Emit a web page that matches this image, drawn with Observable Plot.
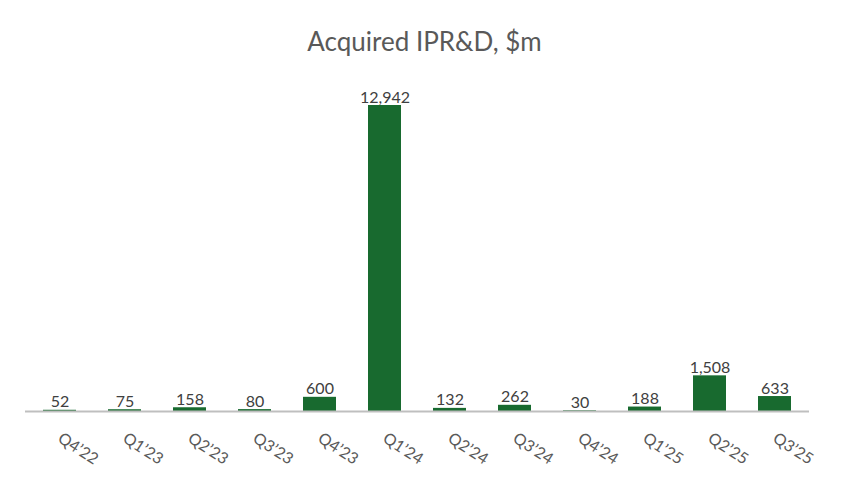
<!DOCTYPE html>
<html>
<head>
<meta charset="utf-8">
<script src="https://cdn.jsdelivr.net/npm/d3@7"></script>
<script src="https://cdn.jsdelivr.net/npm/@observablehq/plot@0.6"></script>
<style>
  html, body { margin: 0; padding: 0; background: #fff; }
  #wrap { width: 867px; height: 489px; overflow: hidden; font-family: Lato, "Open Sans", sans-serif; }
  #title { height: 70px; box-sizing: border-box; padding-top: 28px; padding-right: 18px; text-align: center; font-size: 26px; line-height: 26px; color: #595959; }
  svg { display: block; }
</style>
</head>
<body>
<div id="wrap">
  <div id="title">Acquired IPR&amp;D, $m</div>
  <div id="chart"></div>
</div>
<script>
const quarters = ["Q4’22","Q1’23","Q2’23","Q3’23","Q4’23","Q1’24","Q2’24","Q3’24","Q4’24","Q1’25","Q2’25","Q3’25"];
const values = [52, 75, 158, 80, 600, 12942, 132, 262, 30, 188, 1508, 633];

const data = quarters.map((q, i) => ({q, v: values[i]}));
const fmt = d3.format(",");

const chart = Plot.plot({
  width: 867,
  height: 419,
  marginLeft: 25,
  marginRight: 58,
  marginTop: 35,
  marginBottom: 78,
  style: {fontFamily: "Lato, 'Open Sans', sans-serif", background: "#fff"},
  x: {domain: quarters, paddingInner: 0.5, paddingOuter: 0.25, axis: null},
  y: {domain: [0, 12942], axis: null},
  marks: [
    Plot.barY(data, {x: "q", y: "v", fill: "#186a2f"}),
    Plot.ruleY([0], {stroke: "#bfbfbf", strokeWidth: 2}),
    Plot.text(data, {x: "q", y: "v", text: d => fmt(d.v), lineAnchor: "bottom", dy: -3, fontSize: 16, fill: "#404040"}),
    Plot.text(data, {x: "q", frameAnchor: "bottom", text: "q", rotate: 33, textAnchor: "start", lineAnchor: "top", dx: 3, dy: 20, fontSize: 16, fill: "#595959"})
  ]
});
document.getElementById("chart").appendChild(chart);
</script>
</body>
</html>
